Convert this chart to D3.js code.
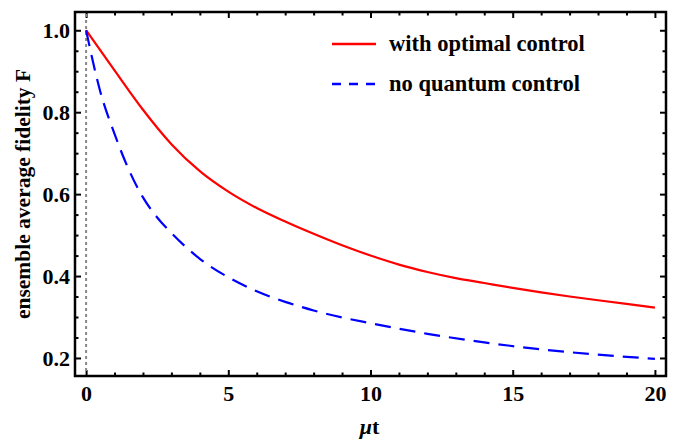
<!DOCTYPE html>
<html>
<head>
<meta charset="UTF-8">
<script src="https://cdn.jsdelivr.net/npm/d3@7"></script>
<style>
  body { margin: 0; background: #fff; }
  text { font-family: "Liberation Serif", "Times New Roman", serif; font-weight: bold; }
</style>
</head>
<body>
<script>
// values
var tOpt = [0, 1, 2, 3, 4, 5, 6, 7, 8, 9, 10, 11, 12, 13, 14, 15, 16, 17, 18, 19, 20];
var fOpt = [1.0, 0.902, 0.806, 0.722, 0.656, 0.606, 0.566, 0.533, 0.503, 0.475, 0.450, 0.428, 0.410, 0.395, 0.383, 0.371, 0.360, 0.350, 0.341, 0.332, 0.323];
var tNo = [0, 0.5, 1, 1.5, 2, 2.5, 3, 4, 5, 6, 7, 8, 9, 10, 12, 14, 16, 18, 20];
var fNo = [1.0, 0.85, 0.747, 0.66, 0.592, 0.543, 0.505, 0.442, 0.397, 0.363, 0.337, 0.316, 0.299, 0.285, 0.259, 0.238, 0.221, 0.208, 0.198];
var xMajor = [0, 5, 10, 15, 20];
var yMajor = [0.2, 0.4, 0.6, 0.8, 1.0];
var seriesNames = ["with optimal control", "no quantum control"];

var w = 685, h = 440;
var pL = 75, pR = 666, pT = 12, pB = 376;

var svg = d3.select("body").append("svg").attr("width", w).attr("height", h);

var xScale = d3.scaleLinear().domain([-0.39, 20.39]).range([pL, pR]);
var yScale = d3.scaleLinear().domain([0.156, 1.0446]).range([pB, pT]);

var xMinor = d3.range(0, 21, 1).filter(function(d) { return d % 5 != 0; });
var yMinor = d3.range(0.15, 1.05, 0.05).map(function(d) { return +d.toFixed(2); })
  .filter(function(d) { return Math.round(d * 100) % 20 != 0 && d > 0.156 && d < 1.044; });

function addAxis(axis, tr, labels) {
  var g = svg.append("g").attr("transform", tr).call(axis);
  g.select(".domain").remove();
  g.selectAll("line").attr("stroke", "#000").attr("stroke-width", 2);
  g.selectAll("text").attr("font-size", 22).attr("fill", "#000")
    .style("font-family", "Liberation Serif").style("font-weight", "bold");
  if (!labels) g.selectAll("text").remove();
  return g;
}

// bottom / top
addAxis(d3.axisBottom(xScale).tickValues(xMajor).tickSize(-6).tickPadding(9).tickFormat(d3.format("d")), "translate(0," + pB + ")", true);
addAxis(d3.axisBottom(xScale).tickValues(xMinor).tickSize(-3.5), "translate(0," + pB + ")", false);
addAxis(d3.axisTop(xScale).tickValues(xMajor).tickSize(-6), "translate(0," + pT + ")", false);
addAxis(d3.axisTop(xScale).tickValues(xMinor).tickSize(-3.5), "translate(0," + pT + ")", false);
// left / right
addAxis(d3.axisLeft(yScale).tickValues(yMajor).tickSize(-6).tickPadding(5).tickFormat(d3.format(".1f")), "translate(" + pL + ",0)", true);
addAxis(d3.axisLeft(yScale).tickValues(yMinor).tickSize(-3.5), "translate(" + pL + ",0)", false);
addAxis(d3.axisRight(yScale).tickValues(yMajor).tickSize(-6), "translate(" + pR + ",0)", false);
addAxis(d3.axisRight(yScale).tickValues(yMinor).tickSize(-3.5), "translate(" + pR + ",0)", false);

// dotted line at t = 0
svg.append("line")
  .attr("x1", xScale(0)).attr("x2", xScale(0))
  .attr("y1", pT + 2).attr("y2", pB - 2)
  .attr("stroke", "#888").attr("stroke-width", 2).attr("stroke-dasharray", "3,3");

var line = d3.line()
  .x(function(d) { return xScale(d[0]); })
  .y(function(d) { return yScale(d[1]); })
  .curve(d3.curveMonotoneX);

svg.append("path")
  .datum(d3.zip(tOpt, fOpt))
  .attr("d", line)
  .attr("fill", "none").attr("stroke", "#ff0000").attr("stroke-width", 2.2);

svg.append("path")
  .datum(d3.zip(tNo, fNo))
  .attr("d", line)
  .attr("fill", "none").attr("stroke", "#0000ff").attr("stroke-width", 2.2)
  .attr("stroke-dasharray", "16,9");

// frame
svg.append("rect")
  .attr("x", pL).attr("y", pT)
  .attr("width", pR - pL).attr("height", pB - pT)
  .attr("fill", "none").attr("stroke", "#000").attr("stroke-width", 2.5);

// legend
var leg = svg.append("g");
leg.append("line").attr("x1", 332).attr("x2", 376).attr("y1", 44).attr("y2", 44)
  .attr("stroke", "#ff0000").attr("stroke-width", 2.5);
leg.append("line").attr("x1", 332).attr("x2", 376).attr("y1", 84).attr("y2", 84)
  .attr("stroke", "#0000ff").attr("stroke-width", 2.5).attr("stroke-dasharray", "9,8");
leg.append("text").attr("x", 389).attr("y", 51).attr("font-size", 22.5).text(seriesNames[0]);
leg.append("text").attr("x", 389).attr("y", 91).attr("font-size", 22.5).text(seriesNames[1]);

// axis titles
var xt = svg.append("text").attr("x", (pL + pR) / 2 - 1).attr("y", 434)
  .attr("text-anchor", "middle").attr("font-size", 22);
xt.append("tspan").attr("font-style", "italic").text("\u03bc");
xt.append("tspan").text("t");

svg.append("text")
  .attr("transform", "translate(30," + ((pT + pB) / 2) + ")rotate(-90)")
  .attr("text-anchor", "middle").attr("font-size", 21.5)
  .text("ensemble average fidelity F");
</script>
</body>
</html>
